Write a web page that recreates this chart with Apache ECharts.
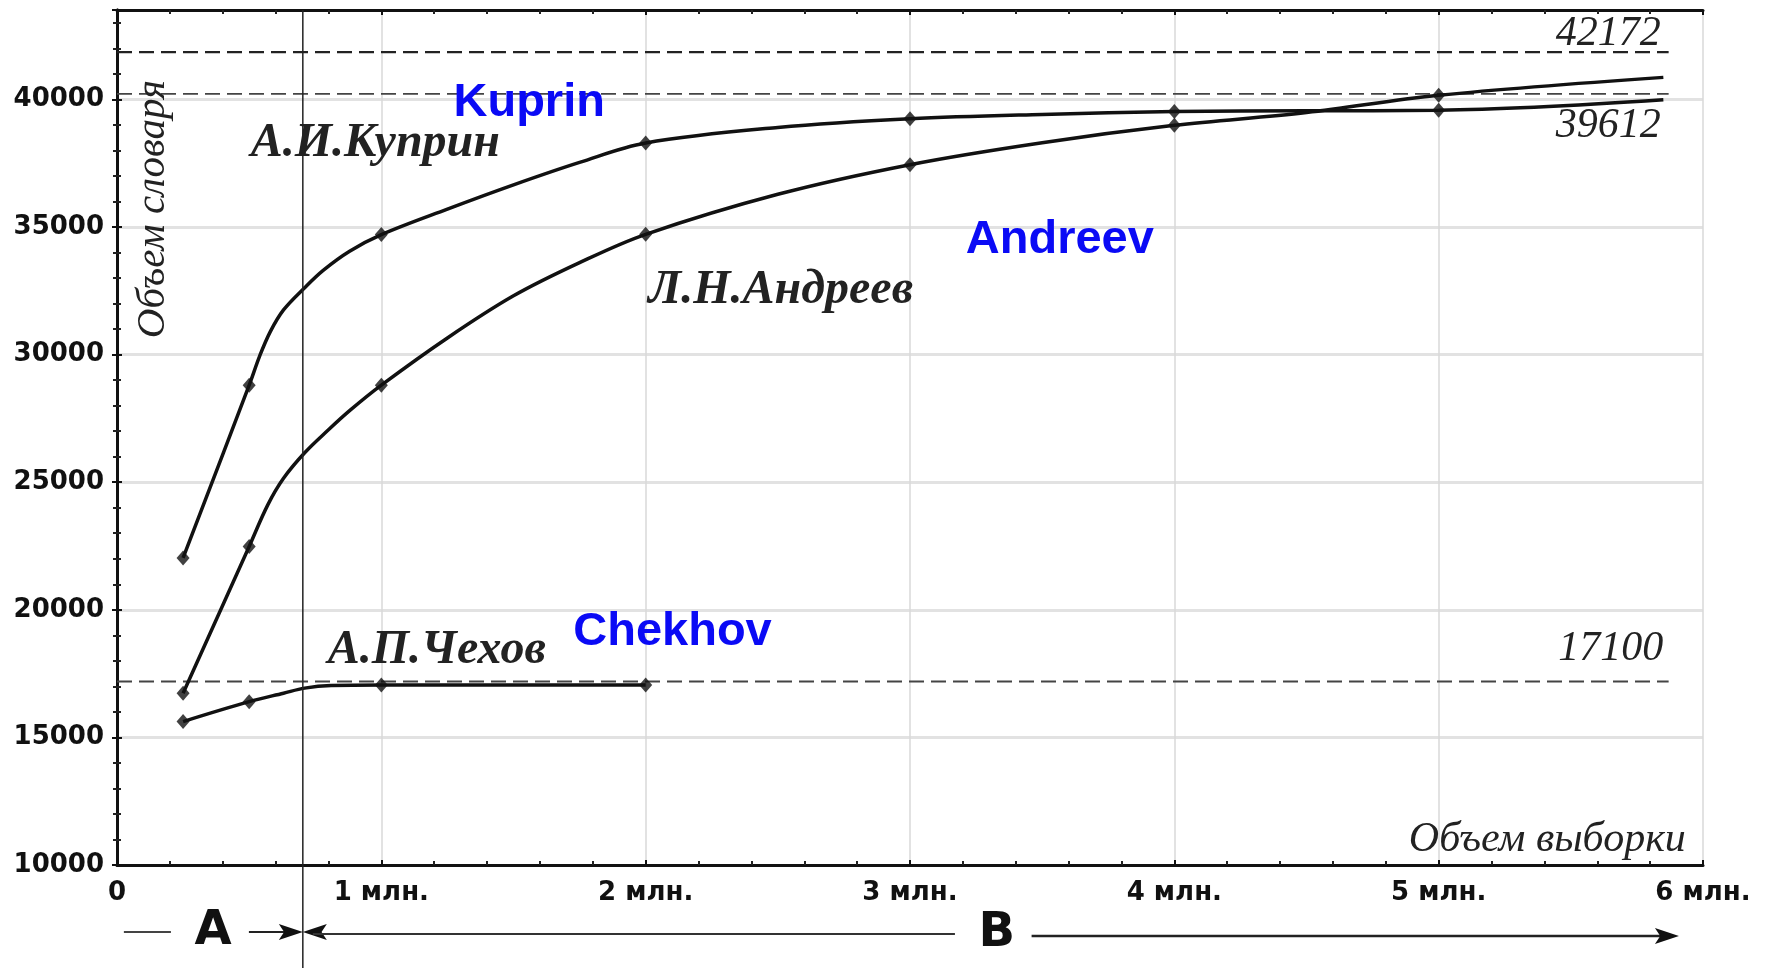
<!DOCTYPE html>
<html>
<head>
<meta charset="utf-8">
<script src="https://cdn.jsdelivr.net/npm/echarts@6/dist/echarts.min.js"></script>
<style>html,body{margin:0;padding:0;background:#fff}#c{width:1768px;height:968px}</style>
</head>
<body>
<div id="c"></div>
<script>
// ---- data (x in millions of words, y = vocabulary size) ----
const xTicks = [0, 1, 2, 3, 4, 5, 6];
const xTickLabels = ['0', '1 млн.', '2 млн.', '3 млн.', '4 млн.', '5 млн.', '6 млн.'];
const yTickLabels = ['10000', '15000', '20000', '25000', '30000', '35000', '40000'];

const kuprinMarkers = [[0.25, 22030], [0.5, 28800], [1, 34700], [2, 38290], [3, 39240], [4, 39520], [5, 39570]];
const kuprinCurve   = [[0.54, 29950], [0.58, 30900], [0.63, 31750], [0.71, 32620], [0.78, 33300], [0.88, 34050], [1.25, 35700], [1.5, 36650], [1.75, 37530], [2.5, 38900], [3.5, 39410], [4.5, 39550], [5.85, 39980]];

const andreevMarkers = [[0.25, 16730], [0.5, 22480], [1, 28800], [2, 34710], [3, 37440], [4, 38980], [5, 40160]];
const andreevCurve   = [[0.57, 24100], [0.63, 25150], [0.71, 26150], [0.8, 27050], [0.88, 27800], [1.25, 30650], [1.5, 32300], [1.75, 33600], [2.5, 36280], [3.5, 38300], [4.5, 39480], [5.85, 40860]];

const chekhovMarkers = [[0.25, 15620], [0.5, 16400], [1, 17050], [2, 17050]];
const chekhovCurve   = [[0.63, 16730], [0.71, 16930], [0.81, 17030]];

const refLevels = [41850, 40210, 17190];
const refLabels = ['42172', '39612', '17100'];
const refEndX = 5.87;

const boundaryX = 0.703; // A | B split

// ---- helpers ----
const merge = (a, b) => a.concat(b).sort((p, q) => p[0] - q[0]);

const axisLineStyle = { color: '#111', width: 3 };
const tickCfg = { show: true, inside: true, length: 5, lineStyle: { color: '#111', width: 2 } };
const minorCfg = { show: true, splitNumber: 5, length: 4, lineStyle: { color: '#222', width: 2 } };
const tickFont = { fontFamily: 'DejaVu Sans', fontWeight: 'bold', fontSize: 26, color: '#111' };

const series = [];
refLevels.forEach((lv, i) => {
  series.push({
    type: 'line', silent: true, symbol: 'none', z: 1,
    data: [[0, lv], [refEndX, lv]],
    lineStyle: { color: i === 0 ? '#222' : '#444', width: i === 0 ? 2.4 : 1.8, type: [15, 7] }
  });
});
[[kuprinMarkers, kuprinCurve], [andreevMarkers, andreevCurve], [chekhovMarkers, chekhovCurve]].forEach(([m, c]) => {
  series.push({
    type: 'line', symbol: 'none', smooth: 0.35, z: 3,
    data: merge(m, c),
    lineStyle: { color: '#111', width: 3.5 }
  });
  series.push({
    type: 'scatter', symbol: 'diamond', symbolSize: [13, 15], z: 4,
    data: m, itemStyle: { color: '#111' }
  });
});

const option = {
  animation: false,
  backgroundColor: '#fff',
  grid: { left: 117, right: 65, top: 10, bottom: 103, containLabel: false },
  xAxis: [
    {
      type: 'value', min: 0, max: 6, interval: 1, position: 'bottom',
      axisLine: { show: true, lineStyle: axisLineStyle },
      axisTick: tickCfg, minorTick: minorCfg,
      splitLine: { show: true, lineStyle: { color: '#d9d9d9', width: 1.5 } },
      axisLabel: Object.assign({ margin: 15, formatter: v => xTickLabels[xTicks.indexOf(v)] }, tickFont)
    },
    {
      type: 'value', min: 0, max: 6, interval: 1, position: 'top',
      axisLine: { show: true, lineStyle: axisLineStyle },
      axisTick: tickCfg, minorTick: minorCfg,
      splitLine: { show: false }, axisLabel: { show: false }
    }
  ],
  yAxis: [
    {
      type: 'value', min: 10000, max: 43500, interval: 5000, position: 'left',
      axisLine: { show: true, lineStyle: axisLineStyle },
      axisTick: tickCfg, minorTick: minorCfg,
      splitLine: { show: true, lineStyle: { color: '#e2e2e2', width: 3 } },
      axisLabel: Object.assign({ margin: 13, showMaxLabel: false,
        formatter: v => { const i = yTickLabels.indexOf(String(v)); return i >= 0 ? yTickLabels[i] : ''; } }, tickFont)
    },
    {
      type: 'value', min: 10000, max: 43500, interval: 5000, position: 'right',
      axisLine: { show: true, lineStyle: axisLineStyle },
      axisTick: tickCfg, minorTick: minorCfg,
      splitLine: { show: false }, axisLabel: { show: false }
    }
  ],
  series: series
};

const chart = echarts.init(document.getElementById('c'), null, { renderer: 'canvas' });
chart.setOption(option);

const px = (x, y) => chart.convertToPixel({ xAxisIndex: 0, yAxisIndex: 0 }, [x, y]);
const topY = px(0, 43500)[1];
const axisY = px(0, 10000)[1];
const bx = px(boundaryX, 10000)[0];
const rowY = axisY + 69;

const serif = '"Liberation Serif", "DejaVu Serif", serif';
const sans = '"Liberation Sans", Arial, sans-serif';

function txt(x, y, text, o) {
  return { type: 'text', x: x, y: y, z: 50, rotation: o.rotation || 0,
    style: Object.assign({ text: text, fill: o.fill || '#111', align: o.align || 'left', verticalAlign: o.va || 'middle',
      fontFamily: o.family || serif, fontSize: o.size, fontStyle: o.style || 'normal', fontWeight: o.weight || 'normal' }) };
}
function arrowHead(tipX, y, dir, len, half) {
  return { type: 'polygon', z: 50, shape: { points: [[tipX, y], [tipX - dir * len, y - half], [tipX - dir * len * 0.78, y], [tipX - dir * len, y + half]] },
    style: { fill: '#111' } };
}
function hline(x1, x2, y, w, c) {
  return { type: 'line', z: 50, shape: { x1: x1, y1: y, x2: x2, y2: y }, style: { stroke: c || '#222', lineWidth: w || 2 } };
}

const g = [];
// vertical A|B boundary line
g.push({ type: 'line', z: 40, shape: { x1: bx, y1: topY, x2: bx, y2: 968 }, style: { stroke: '#222', lineWidth: 1.5 } });

// A / B annotation row
const X = v => px(v, 10000)[0];
g.push(hline(X(0.026), X(0.204), rowY - 2, 2, '#444'));
g.push(txt(X(0.363), rowY - 2, 'A', { size: 48, weight: 'bold', family: 'DejaVu Sans', align: 'center' }));
g.push(hline(X(0.499), bx - 10, rowY - 2, 2, '#222'));
g.push(arrowHead(bx, rowY - 2, 1, 24, 8));
g.push(arrowHead(bx, rowY - 2, -1, 24, 8));
g.push(hline(bx + 10, X(3.17), rowY, 2, '#333'));
g.push(txt(X(3.328), rowY, 'B', { size: 48, weight: 'bold', family: 'DejaVu Sans', align: 'center' }));
g.push(hline(X(3.46), X(5.909) - 12, rowY + 2, 2.5, '#222'));
g.push(arrowHead(X(5.909), rowY + 2, 1, 24, 8));

// reference value labels
const refLabelPos = [[5.84, 42560], [5.84, 38960], [5.85, 18450]];
refLabels.forEach((t, i) => {
  const p = px(refLabelPos[i][0], refLabelPos[i][1]);
  g.push(txt(p[0], p[1], t, { size: 42, style: 'italic', align: 'right', fill: '#222' }));
});

// author labels (Russian)
const authorRu = ['А.И.Куприн', 'Л.Н.Андреев', 'А.П.Чехов'];
const authorRuPos = [[0.506, 38250], [2.01, 32500], [0.797, 18420]];
authorRu.forEach((t, i) => {
  const p = px(authorRuPos[i][0], authorRuPos[i][1]);
  g.push(txt(p[0], p[1], t, { size: 48, style: 'italic', weight: 'bold', fill: '#222' }));
});

// blue English labels
const authorEn = ['Kuprin', 'Andreev', 'Chekhov'];
const authorEnPos = [[1.273, 39850], [3.211, 34470], [1.726, 19130]];
authorEn.forEach((t, i) => {
  const p = px(authorEnPos[i][0], authorEnPos[i][1]);
  g.push(txt(p[0], p[1], t, { size: 47, weight: 'bold', family: sans, fill: '#0a0af5' }));
});

// axis titles inside the plot
const yName = px(0.137, 35700);
g.push(txt(yName[0], yName[1], 'Объем словаря', { size: 41, style: 'italic', align: 'center', rotation: Math.PI / 2, fill: '#222' }));
const xName = px(5.935, 10980);
g.push(txt(xName[0], xName[1], 'Объем выборки', { size: 42, style: 'italic', align: 'right', fill: '#222' }));

chart.setOption({ graphic: g });
</script>
</body>
</html>
